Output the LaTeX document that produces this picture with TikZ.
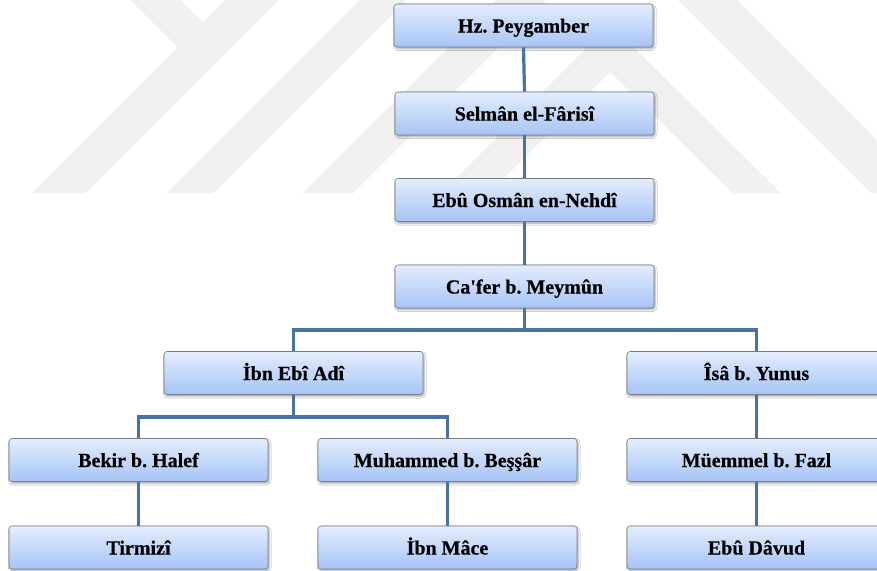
\documentclass[tikz,border=0pt]{standalone}
\usepackage{fontspec}
\setmainfont{Liberation Serif}[BoldFeatures={FakeBold=0.5}]
\usetikzlibrary{shadows.blur}
\definecolor{wm}{RGB}{240,240,240}
\definecolor{boxtop}{RGB}{228,237,253}
\definecolor{boxbot}{RGB}{166,196,246}
\definecolor{boxline}{RGB}{120,124,132}
\definecolor{conn}{RGB}{70,114,166}
\tikzset{
  x=1pt, y=-1pt,
  person/.style={draw=boxline, line width=0.6pt, rounded corners=3pt,
    top color=boxtop, bottom color=boxbot,
    minimum width=259pt, minimum height=43pt, inner sep=0pt,
    text height=16pt, text depth=2pt,
    font=\fontsize{20}{24}\selectfont\bfseries\frenchspacing,
    blur shadow={shadow xshift=1.2pt, shadow yshift=-1.8pt, shadow blur steps=6, shadow opacity=35}},
  link/.style={draw=conn, line width=3.2pt},
  wmark/.style={fill=wm, draw=none}
}
\begin{document}
\begin{tikzpicture}
\useasboundingbox (0,0) rectangle (877,570);
\fill[white] (0,0) rectangle (877,570);
% faint background watermark
\fill[wmark] (32,193) -- (85,193) -- (278,0) -- (225,0) -- cycle;
\fill[wmark] (130,0) -- (180,0) -- (202.5,22.5) -- (177.5,47.5) -- cycle;
\fill[wmark] (167,193) -- (213,193) -- (406,0) -- (360,0) -- cycle;
\fill[wmark] (303,193) -- (353,193) -- (546,0) -- (496,0) -- cycle;
\fill[wmark] (678,0) -- (737,0) -- (877,140) -- (877,193) -- (871,193) -- cycle;
\fill[wmark] (610,24) -- (441,193) -- (489,193) -- (610,72) -- (733,193) -- (781,193) -- cycle;
% boxes
\node[person] (hz)  at (523.5,25.5)  {Hz. Peygamber};
\node[person] (sel) at (524.5,113.5) {Selmân el-Fârisî};
\node[person] (ebo) at (524.5,200)   {Ebû Osmân en-Nehdî};
\node[person] (caf) at (524.5,286.5) {Ca\textquotesingle fer b. Meymûn};
\node[person] (ibn) at (293.5,373)   {İbn Ebî Adî};
\node[person] (isa) at (756.5,373)   {Îsâ b. Yunus};
\node[person] (bek) at (138.5,460)   {Bekir b. Halef};
\node[person] (muh) at (447.5,460)   {Muhammed b. Beşşâr};
\node[person] (mue) at (756.5,460)   {Müemmel b. Fazl};
\node[person] (tir) at (138.5,547.5) {Tirmizî};
\node[person] (ima) at (447.5,547.5) {İbn Mâce};
\node[person] (ebd) at (756.5,547.5) {Ebû Dâvud};
% bus points
\coordinate (bus1) at (524.5,330);
\coordinate (bus2) at (293.5,417);
% connectors
\draw[link] (hz.south) -- (sel.north);
\draw[link] (sel.south) -- (ebo.north);
\draw[link] (ebo.south) -- (caf.north);
\draw[link] (caf.south) -- (bus1) -| (ibn.north);
\draw[link] (bus1) -| (isa.north);
\draw[link] (ibn.south) -- (bus2) -| (bek.north);
\draw[link] (bus2) -| (muh.north);
\draw[link] (isa.south) -- (mue.north);
\draw[link] (bek.south) -- (tir.north);
\draw[link] (muh.south) -- (ima.north);
\draw[link] (mue.south) -- (ebd.north);
\end{tikzpicture}
\end{document}
